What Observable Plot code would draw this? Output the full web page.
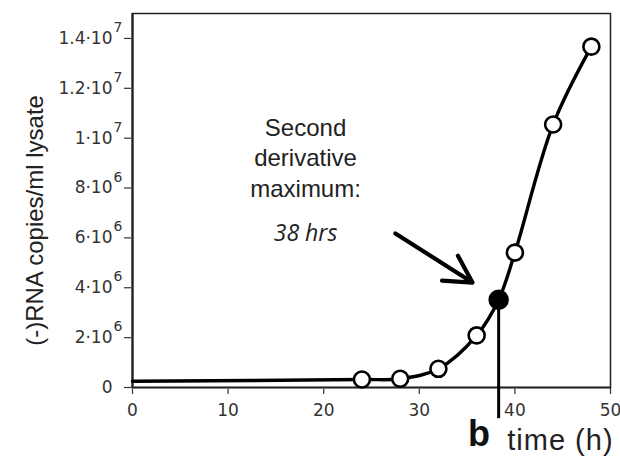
<!DOCTYPE html>
<html>
<head>
<meta charset="utf-8">
<script src="https://cdn.jsdelivr.net/npm/d3@7"></script>
<script src="https://cdn.jsdelivr.net/npm/@observablehq/plot@0.6"></script>
<style>
  html, body { margin: 0; padding: 0; background: #fff; }
  #chart svg { display: block; }
  .xtitle text { letter-spacing: 1px; }
</style>
</head>
<body>
<div id="chart"></div>
<script>
// ---- data ----
const hours  = [24, 28, 32, 36, 40, 44, 48];
const copies = [0.32e6, 0.35e6, 0.75e6, 2.09e6, 5.41e6, 10.55e6, 13.67e6];
const startHour = 0, startCopies = 0.25e6;         // flat early segment
const peakHour = 38.3, peakCopies = 3.52e6;        // second-derivative maximum

const xTicks = [0, 10, 20, 30, 40, 50];
const yTicks = [0, 2e6, 4e6, 6e6, 8e6, 1e7, 1.2e7, 1.4e7];
const yTickMantissa = ["0", "2·10", "4·10", "6·10", "8·10", "1·10", "1.2·10", "1.4·10"];
const yTickExponent = ["", "6", "6", "6", "6", "7", "7", "7"];

const yLabel = "(-)RNA copies/ml lysate";
const xLabel = "time (h)";
const panelLetter = "b";
const noteText = "Second\nderivative\nmaximum:";
const noteValue = "38 hrs";

// ---- derived tables ----
const points = hours.map((h, i) => ({h, c: copies[i]}));
const curve = [{h: startHour, c: startCopies}, ...points, {h: peakHour, c: peakCopies}]
  .sort((a, b) => a.h - b.h);
const yTickRows = yTicks.map((v, i) => ({v, m: yTickMantissa[i], e: yTickExponent[i]}));

const chart = Plot.plot({
  width: 620,
  height: 458,
  marginLeft: 132,
  marginRight: 10,
  marginTop: 13,
  marginBottom: 71,
  x: {domain: [0, 50]},
  y: {domain: [0, 1.5e7]},
  style: {fontFamily: "DejaVu Sans, Verdana, sans-serif", color: "#222", background: "#fff"},
  marks: [
    Plot.axisX({ticks: xTicks, tickSize: 7, tickPadding: 9, fontSize: 17, label: null, stroke: "#333", fill: "#333", strokeWidth: 1.2}),
    Plot.axisY({ticks: yTicks, tickSize: 8, tickFormat: () => "", label: null, stroke: "#333", strokeWidth: 1.2}),
    Plot.text(yTickRows, {x: 0, y: "v", text: "m", textAnchor: "end", dx: -20, fontSize: 17, fill: "#333", fontFamily: "DejaVu Sans, Verdana, sans-serif"}),
    Plot.text(yTickRows, {x: 0, y: "v", text: "e", textAnchor: "start", dx: -19, dy: -11, fontSize: 14, fill: "#333", fontFamily: "DejaVu Sans, Verdana, sans-serif"}),
    Plot.ruleY([0], {stroke: "#888", strokeWidth: 2.5}),
    Plot.ruleX([0], {stroke: "#777", strokeWidth: 3}),
    Plot.frame({stroke: "#222", strokeWidth: 1.5}),
    // vertical marker at the second-derivative maximum
    Plot.ruleX([peakHour], {y1: peakCopies, y2: -1.25e6, stroke: "#000", strokeWidth: 3}),
    // smoothed data curve
    Plot.line(curve, {x: "h", y: "c", curve: "catmull-rom", stroke: "#000", strokeWidth: 3.4}),
    Plot.dot(points, {x: "h", y: "c", r: 8, fill: "#fff", stroke: "#000", strokeWidth: 2.6}),
    Plot.dot([{h: peakHour, c: peakCopies}], {x: "h", y: "c", r: 9.5, fill: "#000", stroke: "#000"}),
    // annotation
    Plot.arrow([{x1: 27.5, y1: 6.18e6, x2: 35.56, y2: 4.21e6}], {x1: "x1", y1: "y1", x2: "x2", y2: "y2", stroke: "#000", strokeWidth: 4.2, headLength: 18, headAngle: 58}),
    Plot.text([noteText], {x: 18.1, y: 9.27e6, text: d => d, fontSize: 24, lineHeight: 1.27, fill: "#222", fontFamily: "Liberation Sans, Arial, sans-serif"}),
    Plot.text([noteValue], {x: 18.1, y: 6.18e6, text: d => d, fontSize: 23, fontStyle: "italic", fill: "#222", fontFamily: "Open Sans, sans-serif"}),
    // axis titles
    Plot.text([yLabel], {x: -10.15, y: 6.7e6, text: d => d, rotate: -90, fontSize: 24, fill: "#222", fontFamily: "Liberation Sans, Arial, sans-serif"}),
    Plot.text([panelLetter], {x: 35.1, y: -2.33e6, text: d => d, textAnchor: "start", lineAnchor: "bottom", fontSize: 36, fontWeight: "bold", fill: "#111", fontFamily: "Liberation Sans, Arial, sans-serif"}),
    Plot.text([xLabel], {x: 39.2, y: -2.49e6, text: d => d, textAnchor: "start", lineAnchor: "bottom", fontSize: 29, fill: "#222", className: "xtitle", fontFamily: "Liberation Sans, Arial, sans-serif"})
  ]
});
document.getElementById("chart").appendChild(chart);
</script>
</body>
</html>
